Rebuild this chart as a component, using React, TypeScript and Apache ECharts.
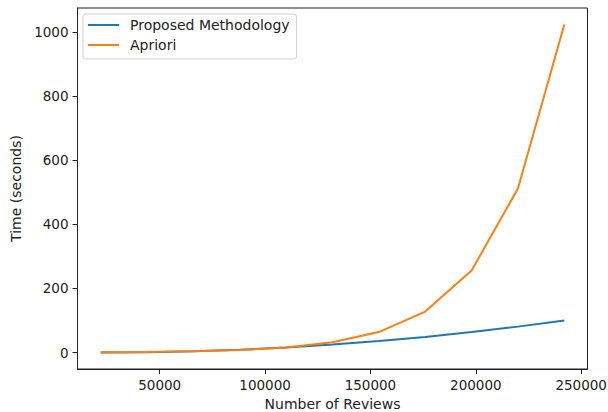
import React, { useEffect, useRef } from "react";
import * as echarts from "echarts";

const reviews = [22000, 44000, 66000, 88000, 110000, 132000, 154000, 176000, 198000, 220000, 242000];
const proposedTimes = [0, 1, 4, 9, 16, 25, 36, 49, 64, 81, 100];
const aprioriTimes = [1, 2, 4, 8, 16, 32, 64, 128, 256, 512, 1024];
const xTicks = [50000, 100000, 150000, 200000, 250000];
const yTicks = [0, 200, 400, 600, 800, 1000];
const seriesNames = ["Proposed Methodology", "Apriori"];
const seriesColors = ["#1f77b4", "#ff7f0e"];

const FONT = "DejaVu Sans";
const INK = "#222";
const LINE_ICON = "path://M0,0 L31,0 L31,2 L0,2 Z";

export default function App() {
  const ref = useRef<HTMLDivElement>(null);
  useEffect(() => {
    if (!ref.current) return;
    const chart = echarts.init(ref.current, null, { renderer: "svg" });
    const xSpan = reviews[reviews.length - 1] - reviews[0];
    const allY = [...proposedTimes, ...aprioriTimes];
    const yMaxD = Math.max(...allY);
    const yMinD = Math.min(...allY);
    const ySpan = yMaxD - yMinD;
    chart.setOption({
      animation: false,
      grid: {
        left: 77.5,
        right: 20.5,
        top: 8,
        bottom: 43,
        outerBoundsMode: "none",
        containLabel: false,
        show: true,
        borderColor: INK,
        borderWidth: 1,
        backgroundColor: "transparent",
      },
      legend: {
        orient: "vertical",
        left: 83,
        top: 14,
        padding: [4, 7, 7, 5],
        itemGap: 6,
        itemWidth: 31,
        itemHeight: 2,
        borderColor: "#d0d0d0",
        borderWidth: 1,
        borderRadius: 3,
        backgroundColor: "#fff",
        textStyle: { fontFamily: FONT, fontSize: 14, color: INK, padding: [0, 0, 0, 6] },
        data: seriesNames.map((n, i) => ({ name: n, icon: LINE_ICON, itemStyle: { color: seriesColors[i] } })),
      },
      xAxis: {
        type: "value",
        min: reviews[0] - xSpan * 0.05,
        max: reviews[reviews.length - 1] + xSpan * 0.05,
        name: "Number of Reviews",
        nameLocation: "middle",
        nameGap: 26,
        nameTextStyle: { fontFamily: FONT, fontSize: 14, color: INK },
        axisLine: { show: true, onZero: false, lineStyle: { color: INK, width: 1 } },
        axisTick: { show: true, length: 5, inside: false, customValues: xTicks, lineStyle: { color: INK } },
        axisLabel: {
          customValues: xTicks,
          formatter: (v: number) => String(v),
          fontFamily: FONT,
          fontSize: 13.5,
          color: INK,
          margin: 9,
        },
        splitLine: { show: false },
      },
      yAxis: {
        type: "value",
        min: yMinD - ySpan * 0.05,
        max: yMaxD + ySpan * 0.05,
        name: "Time (seconds)",
        nameLocation: "middle",
        nameGap: 53.5,
        nameRotate: 90,
        nameTextStyle: { fontFamily: FONT, fontSize: 14, color: INK },
        axisLine: { show: true, onZero: false, lineStyle: { color: INK, width: 1 } },
        axisTick: { show: true, length: 5, inside: false, customValues: yTicks, lineStyle: { color: INK } },
        axisLabel: {
          customValues: yTicks,
          formatter: (v: number) => String(v),
          fontFamily: FONT,
          fontSize: 13.5,
          color: INK,
          margin: 9,
        },
        splitLine: { show: false },
      },
      series: seriesNames.map((n, i) => ({
        name: n,
        type: "line",
        symbol: "none",
        data: reviews.map((x, j) => [x, (i === 0 ? proposedTimes : aprioriTimes)[j]]),
        lineStyle: { color: seriesColors[i], width: 2 },
        itemStyle: { color: seriesColors[i] },
      })),
    });
    return () => chart.dispose();
  }, []);
  return <div ref={ref} style={{ width: 608, height: 412, position: "absolute", left: 0, top: 0 }} />;
}
